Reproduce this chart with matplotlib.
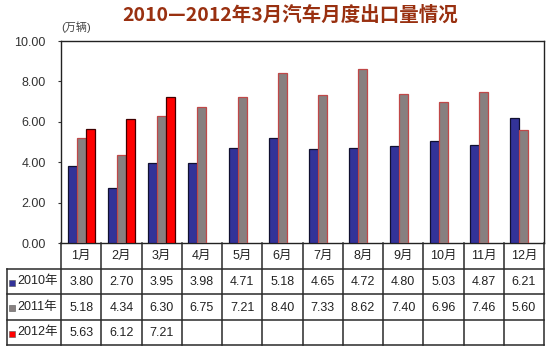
import numpy as np
import matplotlib.pyplot as plt

plt.rcParams['font.family'] = ['Liberation Sans', 'Noto Sans CJK SC', 'DejaVu Sans']

# data
months = ['1月', '2月', '3月', '4月', '5月', '6月', '7月', '8月', '9月', '10月', '11月', '12月']
series_names = ['2010年', '2011年', '2012年']
v2010 = [3.80, 2.70, 3.95, 3.98, 4.71, 5.18, 4.65, 4.72, 4.80, 5.03, 4.87, 6.21]
v2011 = [5.18, 4.34, 6.30, 6.75, 7.21, 8.40, 7.33, 8.62, 7.40, 6.96, 7.46, 5.60]
v2012 = [5.63, 6.12, 7.21]
yticks = [0, 2, 4, 6, 8, 10]

colors = ['#333399', '#878080', '#FF0000']
edges = ['#101030', '#C04848', '#400000']

W, H = 550, 349
fig = plt.figure(figsize=(W / 100, H / 100), dpi=100)
fig.patch.set_facecolor('white')

def box(l, t, r, b):
    return [l / W, 1 - b / H, (r - l) / W, (b - t) / H]

# bar chart
ax = fig.add_axes(box(61, 41, 544, 243))
x = np.arange(len(months))
bw = 0.225
allvals = [v2010, v2011, v2012]
for i, vals in enumerate(allvals):
    xs = x[:len(vals)] + (i - 1) * bw
    ax.bar(xs, vals, width=bw, color=colors[i], edgecolor=edges[i], linewidth=0.9, zorder=3)

ax.set_xlim(-0.5, len(months) - 0.5)
ax.set_ylim(0, 10)
ax.set_xticks([])
ax.set_yticks(yticks)
ax.set_yticklabels(['%.2f' % t for t in yticks], fontsize=9, color='#333333')
ax.tick_params(axis='y', direction='out', length=2, pad=9, color='#333333')
for s in ax.spines.values():
    s.set_color('#222222')
    s.set_linewidth(1.0)

fig.text(61 / W, 1 - 27 / H, '(万辆)', fontsize=8, color='#444444', ha='left', va='center')
fig.text(290 / W, 1 - 15 / H, '2010—2012年3月汽车月度出口量情况', fontsize=14,
         fontweight='bold', color='#993010', ha='center', va='center',
         family=['Noto Sans CJK SC', 'DejaVu Sans'])

# data table below the chart
tx = fig.add_axes(box(7, 243, 544, 345))
left = -0.5 - 54 / 40.25
right = len(months) - 0.5
tx.set_xlim(left, right)
tx.set_ylim(4, 0)
tx.axis('off')
lc = '#2a2a2a'
for r in range(1, 5):
    tx.plot([left, right], [r, r], color=lc, lw=1.1, clip_on=False)
for k in range(len(months) + 1):
    tx.plot([k - 0.5, k - 0.5], [0, 4], color=lc, lw=1.1, clip_on=False)
tx.plot([left, left], [1, 4], color=lc, lw=1.1, clip_on=False)

for j, m in enumerate(months):
    tx.text(j, 0.5, m, ha='center', va='center', fontsize=9, color='#222222')
for i, vals in enumerate(allvals):
    row = i + 1.5
    tx.scatter([left + 0.13], [row + 0.05], marker='s', s=22, color=colors[i],
               edgecolor='#555555', linewidth=0.4, clip_on=False)
    tx.text(left + 0.26, row, series_names[i], ha='left', va='center',
            fontsize=9, color='#222222')
    for j, v in enumerate(vals):
        tx.text(j, row + 0.03, '%.2f' % v, ha='center', va='center',
                fontsize=9, color='#222222')

fig.savefig('out.png', dpi=100, facecolor='white')
